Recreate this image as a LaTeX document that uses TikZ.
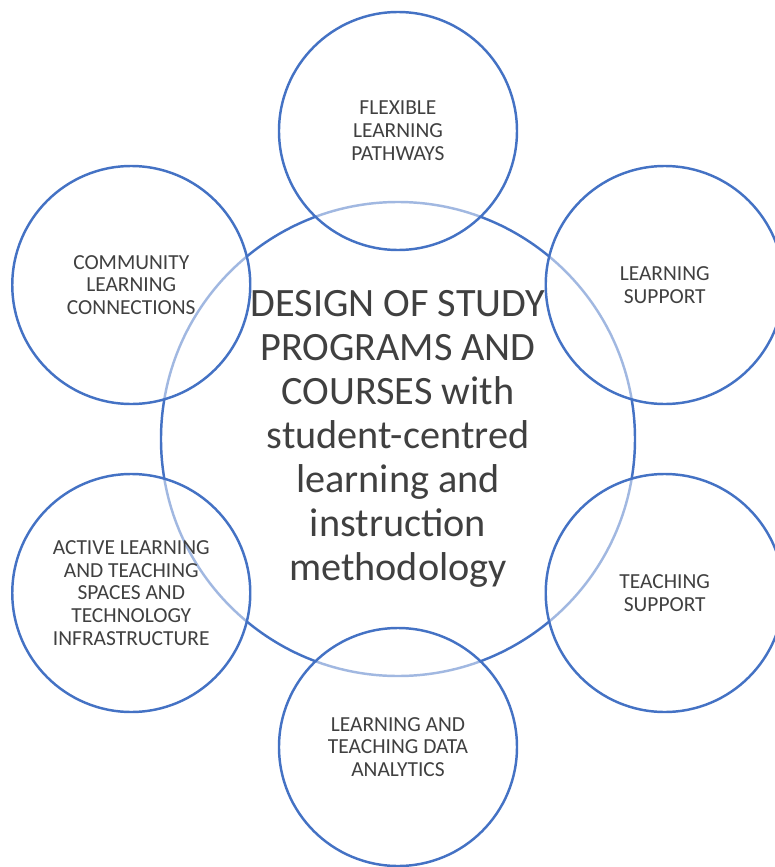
\documentclass[tikz,border=0pt]{standalone}
\usepackage{fontspec}
\setmainfont{Carlito}
\usetikzlibrary{positioning}
\definecolor{ringBlue}{HTML}{4472C4}
\definecolor{labelGrey}{HTML}{404040}
\tikzstyle{hub} = [circle, minimum size=9.48cm, inner sep=0pt, align=center, draw=ringBlue, line width=1.4pt, text=labelGrey, font=\fontsize{22.9}{25}\selectfont]
\tikzstyle{satellite} = [circle, minimum size=4.76cm, inner sep=0pt, align=center, draw=ringBlue, line width=1.4pt, fill=white, fill opacity=0.5, text opacity=1, text=labelGrey, font=\fontsize{12.2}{13}\selectfont]
\begin{document}
\begin{tikzpicture}[node distance=6.16cm]

	\useasboundingbox (-7.96,-8.56) rectangle (7.54,8.78);

	\node (designHub) [hub] at (0,0) {DESIGN OF STUDY\\PROGRAMS AND\\COURSES with\\student-centred\\learning and\\instruction\\methodology};

	\node (flexPaths) [satellite] at (90:6.16cm) {FLEXIBLE\\LEARNING\\PATHWAYS};
	\node (learnSupport) [satellite] at (30:6.16cm) {LEARNING\\SUPPORT};
	\node (teachSupport) [satellite] at (-30:6.16cm) {TEACHING\\SUPPORT};
	\node (dataAnalytics) [satellite] at (-90:6.16cm) {LEARNING AND\\TEACHING DATA\\ANALYTICS};
	\node (activeSpaces) [satellite] at (-150:6.16cm) {ACTIVE LEARNING\\AND TEACHING\\SPACES AND\\TECHNOLOGY\\INFRASTRUCTURE};
	\node (communityLinks) [satellite] at (150:6.16cm) {COMMUNITY\\LEARNING\\CONNECTIONS};

\end{tikzpicture}
\end{document}
